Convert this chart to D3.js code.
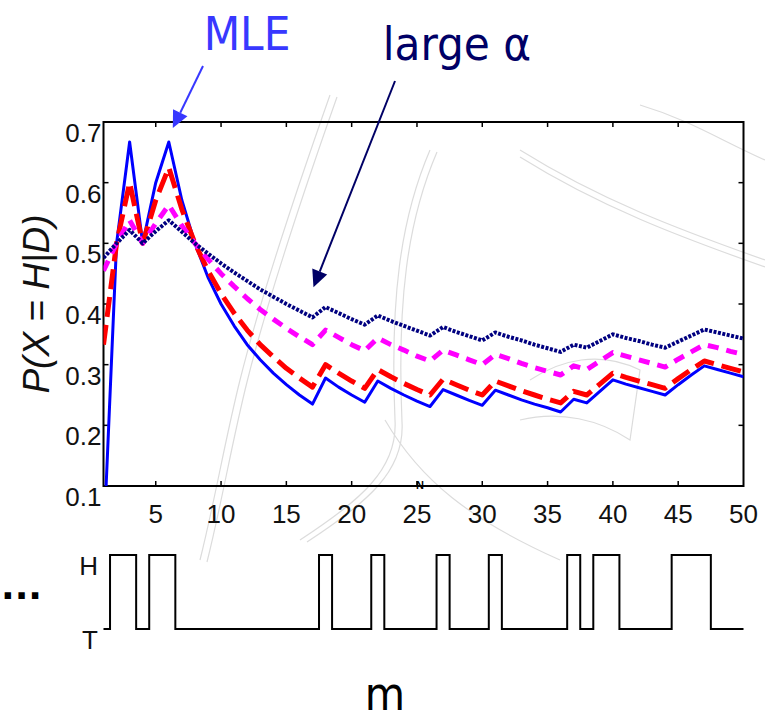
<!DOCTYPE html>
<html lang="en">
<head>
    <meta charset="utf-8">
    <script src="https://d3js.org/d3.v7.min.js"></script>
    <style type="text/css">
        body {
            margin: 0;
            background: white;
            overflow: hidden;
        }
        .tick-label {
            font-family: "Liberation Sans", Arial, sans-serif;
            font-size: 26px;
            fill: #111;
        }
        .note {
            font-family: "DejaVu Sans Condensed", "DejaVu Sans", sans-serif;
            font-stretch: condensed;
        }
    </style>
</head>
<body>
<svg id="chart"></svg>
<script type="text/javascript">
    // coin toss sequence, m = 1..50
    var tosses = ["T","H","H","T","H","H","T","T","T","T",
                  "T","T","T","T","T","T","T","H","T","T",
                  "T","H","T","T","T","T","H","T","T","T",
                  "H","T","T","T","T","T","H","T","H","H",
                  "T","T","T","T","H","H","H","T","T","T"];

    var mValues = [1,2,3,4,5,6,7,8,9,10,11,12,13,14,15,16,17,18,19,20,
                   21,22,23,24,25,26,27,28,29,30,31,32,33,34,35,36,37,38,39,40,
                   41,42,43,44,45,46,47,48,49,50];

    // MLE (solid blue)
    var mle = [0, 0.5, 0.667, 0.5, 0.6, 0.667, 0.571, 0.5, 0.444, 0.4,
               0.364, 0.333, 0.308, 0.286, 0.267, 0.25, 0.235, 0.278, 0.263, 0.25,
               0.238, 0.273, 0.261, 0.25, 0.24, 0.231, 0.259, 0.25, 0.241, 0.233,
               0.258, 0.25, 0.242, 0.235, 0.229, 0.222, 0.243, 0.237, 0.256, 0.275,
               0.268, 0.262, 0.256, 0.25, 0.267, 0.283, 0.298, 0.292, 0.286, 0.28];

    // small alpha (red, long dashes)
    var smallAlpha = [0.333, 0.5, 0.6, 0.5, 0.571, 0.625, 0.556, 0.5, 0.455, 0.417,
                      0.385, 0.357, 0.333, 0.313, 0.294, 0.278, 0.263, 0.3, 0.286, 0.273,
                      0.261, 0.292, 0.28, 0.269, 0.259, 0.25, 0.276, 0.267, 0.258, 0.25,
                      0.273, 0.265, 0.257, 0.25, 0.243, 0.237, 0.256, 0.25, 0.268, 0.286,
                      0.279, 0.273, 0.267, 0.261, 0.277, 0.292, 0.306, 0.3, 0.294, 0.288];

    // medium alpha (magenta, short dashes)
    var midAlpha = [0.455, 0.5, 0.538, 0.5, 0.533, 0.563, 0.529, 0.5, 0.474, 0.45,
                    0.429, 0.409, 0.391, 0.375, 0.36, 0.346, 0.333, 0.357, 0.345, 0.333,
                    0.323, 0.344, 0.333, 0.324, 0.314, 0.306, 0.324, 0.316, 0.308, 0.3,
                    0.317, 0.31, 0.302, 0.295, 0.289, 0.283, 0.298, 0.292, 0.306, 0.32,
                    0.314, 0.308, 0.302, 0.296, 0.309, 0.321, 0.333, 0.328, 0.322, 0.317];

    // large alpha (navy, dotted)
    var largeAlpha = [0.476, 0.5, 0.522, 0.5, 0.52, 0.538, 0.519, 0.5, 0.483, 0.467,
                      0.452, 0.438, 0.424, 0.412, 0.4, 0.389, 0.378, 0.395, 0.385, 0.375,
                      0.366, 0.381, 0.372, 0.364, 0.356, 0.348, 0.362, 0.354, 0.347, 0.34,
                      0.353, 0.346, 0.34, 0.333, 0.327, 0.321, 0.333, 0.328, 0.339, 0.35,
                      0.344, 0.339, 0.333, 0.328, 0.338, 0.348, 0.358, 0.353, 0.348, 0.343];

    var xTicks = [5, 10, 15, 20, 25, 30, 35, 40, 45, 50];
    var yTicks = [0.1, 0.2, 0.3, 0.4, 0.5, 0.6, 0.7];

    var width = 765;
    var height = 720;
    var plot = {left: 103.5, right: 743.5, top: 122, bottom: 486};

    var svg = d3.select("#chart")
        .attr("width", width)
        .attr("height", height)
        .style("font-family", "Liberation Sans, Arial, sans-serif");

    svg.append("rect").attr("width", width).attr("height", height).attr("fill", "white");

    // faint background watermark strokes
    var ghost = svg.append("g")
        .attr("fill", "none")
        .attr("stroke", "#dcdcdc")
        .attr("stroke-width", 1.2);
    var ghostPaths = [
        "M330,95 C300,180 260,300 240,380 C225,440 215,500 200,560",
        "M337,97 C307,182 267,302 247,382 C232,442 222,502 207,562",
        "M430,150 C400,220 390,300 395,420 C398,470 360,500 300,540",
        "M437,152 C407,222 397,302 402,422 C405,472 367,502 307,542",
        "M520,150 C600,200 680,230 765,260",
        "M520,157 C600,207 680,237 765,267",
        "M530,380 C560,360 600,350 640,370 L630,440 C600,420 560,410 520,420",
        "M385,420 C420,480 470,520 560,560",
        "M640,105 C690,120 720,140 765,160"
    ];
    ghost.selectAll("path").data(ghostPaths).join("path").attr("d", function(d) { return d; });

    var x = d3.scaleLinear().domain([1, 50]).range([plot.left, plot.right]);
    var y = d3.scaleLinear().domain([0.1, 0.7]).range([plot.bottom, plot.top]);

    // frame
    svg.append("rect")
        .attr("x", plot.left).attr("y", plot.top)
        .attr("width", plot.right - plot.left).attr("height", plot.bottom - plot.top)
        .attr("fill", "none").attr("stroke", "black").attr("stroke-width", 2);

    // inward ticks on all four sides
    var tickLen = 5;
    var innerX = xTicks.filter(function(t) { return t > 1 && t < 50; });
    var innerY = yTicks.filter(function(t) { return t > 0.1 && t < 0.7; });
    var ticks = svg.append("g").attr("stroke", "black").attr("stroke-width", 1.5);
    innerX.forEach(function(t) {
        ticks.append("line").attr("x1", x(t)).attr("x2", x(t)).attr("y1", plot.bottom).attr("y2", plot.bottom - tickLen);
        ticks.append("line").attr("x1", x(t)).attr("x2", x(t)).attr("y1", plot.top).attr("y2", plot.top + tickLen);
    });
    innerY.forEach(function(t) {
        ticks.append("line").attr("x1", plot.left).attr("x2", plot.left + tickLen).attr("y1", y(t)).attr("y2", y(t));
        ticks.append("line").attr("x1", plot.right).attr("x2", plot.right - tickLen).attr("y1", y(t)).attr("y2", y(t));
    });

    svg.append("g").selectAll("text")
        .data(xTicks)
        .join("text")
        .attr("class", "tick-label")
        .attr("x", function(d) { return x(d); })
        .attr("y", plot.bottom + 37)
        .attr("text-anchor", "middle")
        .text(function(d) { return d; });

    svg.append("g").selectAll("text")
        .data(yTicks)
        .join("text")
        .attr("class", "tick-label")
        .attr("x", plot.left - 2)
        .attr("y", function(d) { return y(d) + 20; })
        .attr("text-anchor", "end")
        .text(function(d) { return d.toFixed(1); });

    svg.append("text")
        .attr("transform", "translate(49," + ((plot.top + plot.bottom) / 2) + ") rotate(-90)")
        .attr("text-anchor", "middle")
        .style("font-family", "Liberation Sans, Arial, sans-serif")
        .style("font-style", "italic")
        .style("font-size", "37px")
        .attr("fill", "#111")
        .text("P(X = H|D)");

    // curves
    svg.append("clipPath").attr("id", "clip")
        .append("rect")
        .attr("x", plot.left).attr("y", plot.top)
        .attr("width", plot.right - plot.left).attr("height", plot.bottom - plot.top);

    var line = d3.line()
        .x(function(d, i) { return x(mValues[i]); })
        .y(function(d) { return y(d); });

    var series = [
        {values: mle, color: "#0000ff", width: 3, dash: null},
        {values: smallAlpha, color: "#ff0000", width: 5, dash: "20,8"},
        {values: midAlpha, color: "#ff00ff", width: 5, dash: "11,8"},
        {values: largeAlpha, color: "#000080", width: 4, dash: "3,1.5"}
    ];

    svg.append("g").attr("clip-path", "url(#clip)")
        .selectAll("path")
        .data(series)
        .join("path")
        .attr("d", function(d) { return line(d.values); })
        .attr("fill", "none")
        .attr("stroke", function(d) { return d.color; })
        .attr("stroke-width", function(d) { return d.width; })
        .attr("stroke-dasharray", function(d) { return d.dash; })
        .attr("stroke-linejoin", "round");

    // toss sequence panel
    var yToss = d3.scalePoint().domain(["H", "T"]).range([555, 629]);

    var stepLine = d3.line()
        .x(function(d, i) { return x(mValues[i]); })
        .y(function(d) { return yToss(d); })
        .curve(d3.curveStep);

    svg.append("path")
        .attr("d", stepLine(tosses))
        .attr("fill", "none")
        .attr("stroke", "black")
        .attr("stroke-width", 2);

    svg.append("g").selectAll("text")
        .data(yToss.domain())
        .join("text")
        .attr("class", "tick-label")
        .attr("x", 98)
        .attr("y", function(d) { return yToss(d) + 20; })
        .attr("text-anchor", "end")
        .text(function(d) { return d; });

    svg.append("text")
        .attr("x", 1).attr("y", 599)
        .style("font-family", "DejaVu Sans, sans-serif")
        .style("font-weight", "bold")
        .style("font-size", "36px")
        .text("...");

    svg.append("text")
        .attr("class", "note")
        .attr("x", 385).attr("y", 710)
        .attr("text-anchor", "middle")
        .style("font-size", "46px")
        .text("m");

    // annotations
    function arrow(x1, y1, x2, y2, color) {
        var ang = Math.atan2(y2 - y1, x2 - x1);
        var len = 17, half = 8;
        var bx = x2 - len * Math.cos(ang), by = y2 - len * Math.sin(ang);
        svg.append("line")
            .attr("x1", x1).attr("y1", y1).attr("x2", bx).attr("y2", by)
            .attr("stroke", color).attr("stroke-width", 2);
        svg.append("path")
            .attr("d", "M" + x2 + "," + y2 +
                "L" + (bx + half * Math.sin(ang)) + "," + (by - half * Math.cos(ang)) +
                "L" + (bx - half * Math.sin(ang)) + "," + (by + half * Math.cos(ang)) + "Z")
            .attr("fill", color);
    }

    svg.append("text")
        .attr("class", "note")
        .attr("x", 247).attr("y", 50)
        .attr("text-anchor", "middle")
        .attr("fill", "#3838ff")
        .style("font-size", "47px")
        .text("MLE");
    arrow(203, 66, x(6) + 4, y(mle[5]) - 14, "#3838ff");

    svg.append("text")
        .attr("class", "note")
        .attr("x", 457).attr("y", 60)
        .attr("text-anchor", "middle")
        .attr("fill", "#000066")
        .style("font-size", "47px")
        .text("large \u03b1");
    arrow(395, 81, x(17) + 1, y(largeAlpha[16]) - 30, "#000066");

    // small stray mark on the x axis
    svg.append("text")
        .attr("x", 420).attr("y", 489)
        .attr("text-anchor", "middle")
        .style("font-size", "11px")
        .style("font-weight", "bold")
        .text("N");
</script>
</body>
</html>
